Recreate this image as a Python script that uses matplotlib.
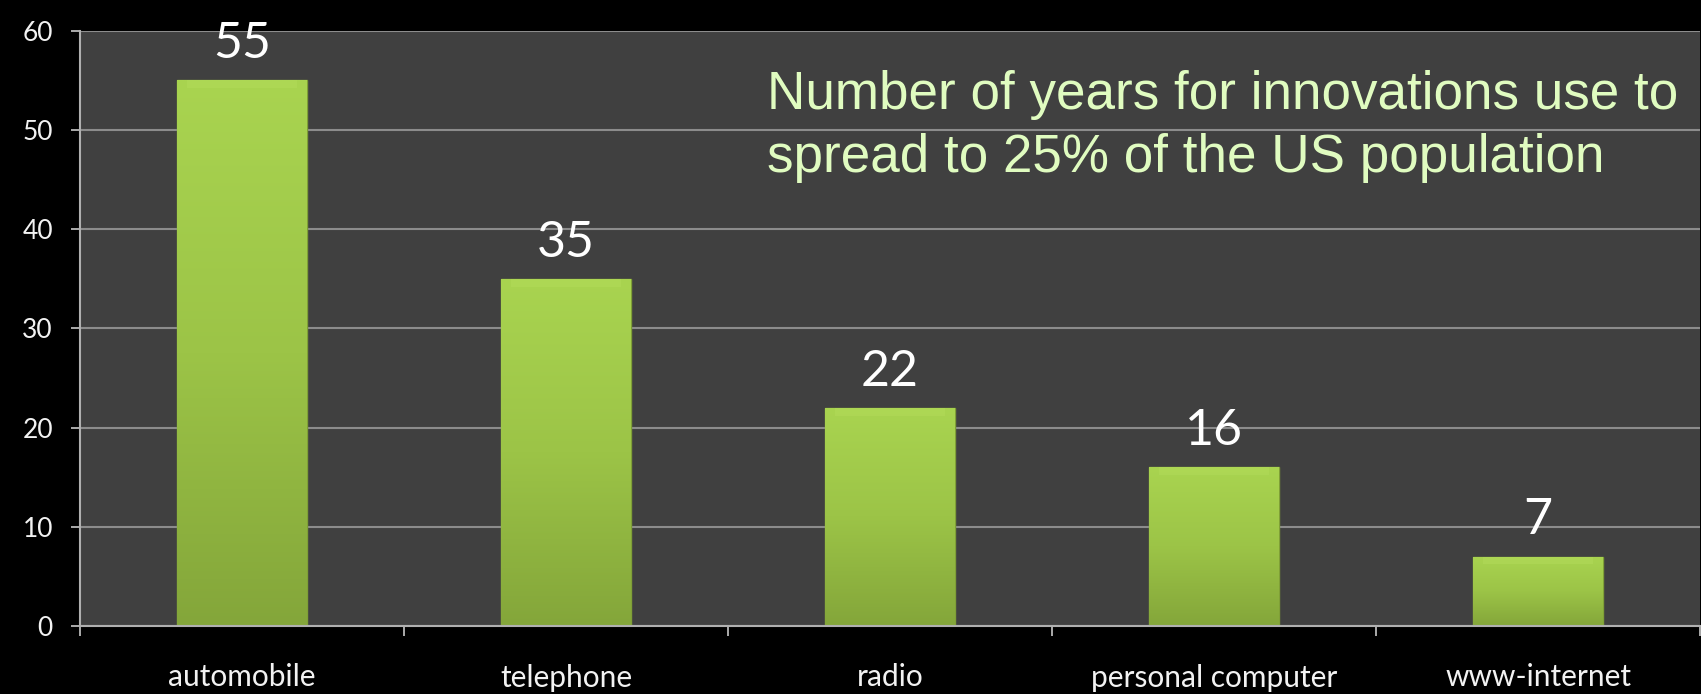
import matplotlib
matplotlib.use("Agg")
import matplotlib.pyplot as plt
import numpy as np
from matplotlib.colors import LinearSegmentedColormap

categories = ["automobile", "telephone", "radio", "personal computer", "www-internet"]
years = [55, 35, 22, 16, 7]
yticks = [0, 10, 20, 30, 40, 50, 60]
title_lines = ["Number of years for innovations use to", "spread to 25% of the US population"]

W, H = 1701, 694
fig = plt.figure(figsize=(W / 100, H / 100), dpi=100, facecolor="black")
ax = fig.add_axes([80 / W, (H - 626) / H, (1700 - 80) / W, (626 - 30.7) / H])
ax.set_facecolor("#404040")

x = np.arange(len(categories))
bw = 0.40
bars = ax.bar(x, years, width=bw, color="#9cc646", edgecolor="#7f9f36", linewidth=1.0, zorder=3)

cmap = LinearSegmentedColormap.from_list("g", ["#84a63a", "#9cc447", "#a9d450"])
grad = np.linspace(0, 1, 256).reshape(-1, 1)
for b in bars:
    x0, y0, w, h = b.get_x(), b.get_y(), b.get_width(), b.get_height()
    im = ax.imshow(grad, cmap=cmap, origin="lower", aspect="auto",
                   extent=[x0, x0 + w, y0, y0 + h], zorder=3.5)
    im.set_clip_path(b)
    # bevel highlight at top
    ax.fill_between([x0 + 0.03, x0 + w - 0.03], [y0 + h - 0.8, y0 + h - 0.8], [y0 + h, y0 + h],
                    color="#b4dc5c", alpha=0.45, zorder=3.6, linewidth=0)

ax.set_xlim(-0.5, len(categories) - 0.5)
ax.set_ylim(0, 60)
ax.set_yticks(yticks)
ax.set_yticklabels([str(t) for t in yticks])
ax.set_xticks(x)
ax.set_xticklabels(categories)
ax.set_xticks(np.arange(-0.5, len(categories), 1.0), minor=True)

lab_font = "Lato"
ax.tick_params(axis="y", colors="#c8c8c8", length=6.5, width=1.2, pad=13,
               labelsize=19, labelcolor="#f2f2f2")
ax.tick_params(axis="x", which="major", length=0, pad=27, labelsize=21.5, labelcolor="#f2f2f2")
ax.tick_params(axis="x", which="minor", length=7, width=1.2, colors="#c8c8c8")
for lab in ax.get_xticklabels() + ax.get_yticklabels():
    lab.set_fontfamily(lab_font)

ax.grid(axis="y", color="#8c8c8c", linewidth=1.5, zorder=1)
ax.set_axisbelow(True)
for s in ["top", "right"]:
    ax.spines[s].set_visible(False)
for s in ["left", "bottom"]:
    ax.spines[s].set_color("#b0b0b0")
    ax.spines[s].set_linewidth(1.5)
    ax.spines[s].set_zorder(4)

for xi, v in zip(x, years):
    ax.annotate(str(v), (xi, v), xytext=(0, 16), textcoords="offset points",
                ha="center", va="baseline", fontsize=36, color="white",
                fontfamily=lab_font, zorder=5, annotation_clip=False)

fig.text(767 / W, (H - 109) / H, title_lines[0], fontsize=38.2, color="#e0fcc0",
         fontfamily="Liberation Sans", ha="left", va="baseline")
fig.text(767 / W, (H - 172) / H, title_lines[1], fontsize=38.2, color="#e0fcc0",
         fontfamily="Liberation Sans", ha="left", va="baseline")

fig.savefig("out.png", dpi=100, facecolor="black")
